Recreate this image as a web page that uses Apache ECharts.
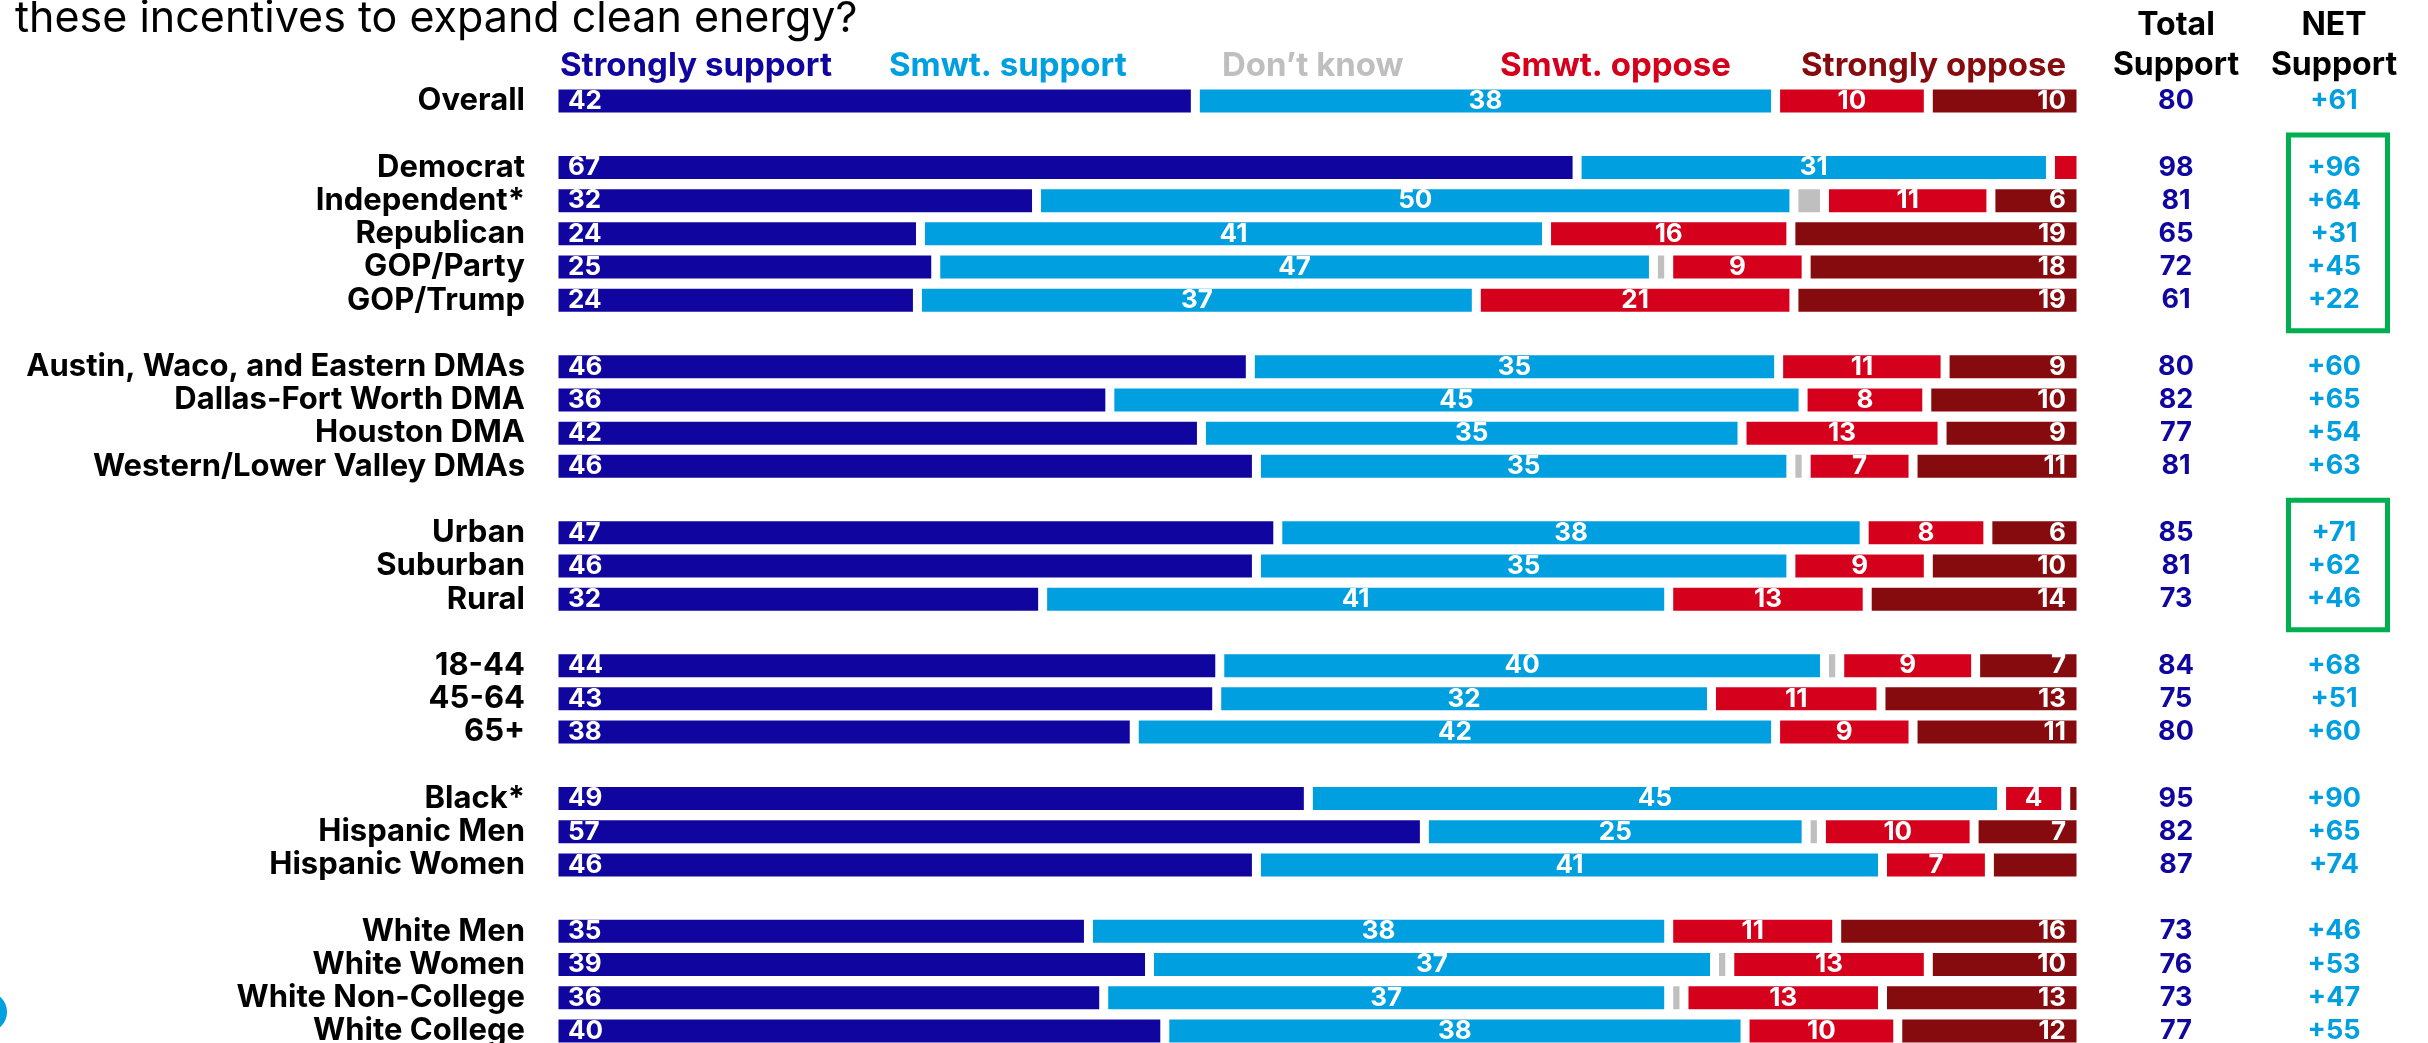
<!DOCTYPE html>
<html>
<head>
<meta charset="utf-8">
<script src="https://cdn.jsdelivr.net/npm/echarts@6/dist/echarts.min.js"></script>
<style>
html,body{margin:0;padding:0;background:#fff;}
#chart{width:2428px;height:1043px;}
</style>
</head>
<body>
<div id="chart"></div>
<script>
// rows, with blank spacer rows between the groups
var categories = ['Overall', ' ',
	'Democrat', 'Independent*', 'Republican', 'GOP/Party', 'GOP/Trump', '  ',
	'Austin, Waco, and Eastern DMAs', 'Dallas-Fort Worth DMA', 'Houston DMA', 'Western/Lower Valley DMAs', '   ',
	'Urban', 'Suburban', 'Rural', '    ',
	'18-44', '45-64', '65+', '     ',
	'Black*', 'Hispanic Men', 'Hispanic Women', '      ',
	'White Men', 'White Women', 'White Non-College', 'White College'];

var strongSupport = [42, null, 67, 31.6, 24, 25, 23.8, null, 45.6, 36.4, 42.4, 46, null, 47.4, 46, 32, null, 43.6, 43.4, 38, null, 49.4, 57, 46, null, 35, 39, 36, 40];
var smwtSupport   = [38, null, 31, 49.6, 41, 47, 36.6, null, 34.6, 45.4, 35.4, 35, null, 38.4, 35, 41, null, 39.6, 32.4, 42, null, 45.4, 25, 41, null, 38, 37, 37, 38];
var dontKnow      = [0, null, 0, 2, 0, 1, 0, null, 0, 0, 0, 1, null, 0, 0, 0, null, 1, 0, 0, null, 0, 1, 0, null, 0, 1, 1, 0];
var smwtOppose    = [10, null, 2, 10.9, 16, 9, 20.8, null, 10.9, 8.1, 13.1, 7, null, 8.1, 9, 13, null, 8.9, 11.1, 9, null, 4.2, 10, 7, null, 11, 13, 13, 10];
var strongOppose  = [10, null, 0, 5.9, 19, 18, 18.8, null, 8.9, 10.1, 9.1, 11, null, 6.1, 10, 14, null, 6.9, 13.1, 11, null, 1.0, 7, 6, null, 16, 10, 13, 12];

var totalSupport = [80, null, 98, 81, 65, 72, 61, null, 80, 82, 77, 81, null, 85, 81, 73, null, 84, 75, 80, null, 95, 82, 87, null, 73, 76, 73, 77];
var netSupport = ['+61', null, '+96', '+64', '+31', '+45', '+22', null, '+60', '+65', '+54', '+63', null, '+71', '+62', '+46', null, '+68', '+51', '+60', null, '+90', '+65', '+74', null, '+46', '+53', '+47', '+55'];

// segments printed without a number in the original
var unlabeledStrongOppose = ['Hispanic Women'];

// groups boxed in green on the NET column
var boxedGroups = [['Democrat', 'GOP/Trump'], ['Urban', 'Rural']];

var COLOR = {
	STRONG_SUPPORT: '#10069F',
	SMWT_SUPPORT: '#009FDF',
	DONT_KNOW: '#BFBFBF',
	SMWT_OPPOSE: '#D5001C',
	STRONG_OPPOSE: '#860B0F',
	BOX: '#00B050'
};
var FONT = 'Inter';

function toData(arr){
	return arr.map(function(v){ return (v === null || v === 0) ? '-' : v; });
}

function makeSeries(name, values, color, labelPos, labelDist, hideFor){
	return {
		name: name,
		type: 'bar',
		stack: 'all',
		barWidth: 32,
		data: toData(values),
		itemStyle: { color: color, borderColor: '#ffffff', borderWidth: 4.5 },
		label: {
			show: labelPos !== null,
			position: labelPos || 'inside',
			distance: labelDist,
			color: '#ffffff',
			fontFamily: FONT,
			fontWeight: 'bold',
			fontSize: 26,
			formatter: function(p){
				if (p.value < 3) return '';
				if (hideFor && hideFor.indexOf(p.name) >= 0) return '';
				return Math.round(p.value);
			}
		},
		emphasis: { disabled: true },
		animation: false
	};
}

function legendItem(name, color, left){
	return {
		data: [name],
		left: left,
		top: 45,
		icon: 'none',
		itemWidth: 0,
		itemHeight: 14,
		selectedMode: false,
		textStyle: { color: color, fontFamily: FONT, fontWeight: 'bold', fontSize: 33 }
	};
}

var chart = echarts.init(document.getElementById('chart'));

chart.setOption({
	backgroundColor: '#ffffff',
	animation: false,
	legend: [
		legendItem('Strongly support', COLOR.STRONG_SUPPORT, 550),
		legendItem('Smwt. support', COLOR.SMWT_SUPPORT, 879),
		legendItem('Don\u2019t know', COLOR.DONT_KNOW, 1212),
		legendItem('Smwt. oppose', COLOR.SMWT_OPPOSE, 1490),
		legendItem('Strongly oppose', COLOR.STRONG_OPPOSE, 1791)
	],
	// the last row runs to the bottom edge, so the grid is allowed past the canvas
	grid: { left: 554, width: 1527, top: 84.4, height: 963.2, containLabel: false, outerBoundsMode: 'none' },
	xAxis: { type: 'value', min: 0, max: 100, show: false },
	yAxis: [
		{
			type: 'category',
			inverse: true,
			data: categories,
			axisLine: { show: false },
			axisTick: { show: false },
			axisLabel: {
				interval: 0,
				margin: 29,
				color: '#000000',
				fontFamily: FONT,
				fontWeight: 'bold',
				fontSize: 31
			}
		},
		{
			type: 'category',
			inverse: true,
			position: 'right',
			data: categories,
			axisLine: { show: false },
			axisTick: { show: false },
			axisLabel: {
				interval: 0,
				margin: 40,
				formatter: function(value, index){
					if (totalSupport[index] === null) return '';
					return '{t|' + totalSupport[index] + '}{n|' + netSupport[index] + '}';
				},
				rich: {
					t: { width: 110, align: 'center', color: COLOR.STRONG_SUPPORT, fontFamily: FONT, fontWeight: 'bold', fontSize: 27 },
					n: { width: 206, align: 'center', color: COLOR.SMWT_SUPPORT, fontFamily: FONT, fontWeight: 'bold', fontSize: 27 }
				}
			}
		}
	],
	series: [
		makeSeries('Strongly support', strongSupport, COLOR.STRONG_SUPPORT, 'insideLeft', 14),
		makeSeries('Smwt. support', smwtSupport, COLOR.SMWT_SUPPORT, 'inside', 5),
		makeSeries('Don\u2019t know', dontKnow, COLOR.DONT_KNOW, null, 5),
		makeSeries('Smwt. oppose', smwtOppose, COLOR.SMWT_OPPOSE, 'inside', 5),
		makeSeries('Strongly oppose', strongOppose, COLOR.STRONG_OPPOSE, 'insideRight', 15, unlabeledStrongOppose)
	],
	graphic: [
		{ type: 'text', id: 'question', style: { text: 'these incentives to expand clean energy?', x: 15, y: 19, font: '43px Inter', fill: '#000000', verticalAlign: 'middle' } },
		{ type: 'text', id: 'h1a', style: { text: 'Total', x: 2176, y: 25, font: 'bold 32px Inter', fill: '#000000', align: 'center', verticalAlign: 'middle' } },
		{ type: 'text', id: 'h1b', style: { text: 'Support', x: 2176, y: 65, font: 'bold 32px Inter', fill: '#000000', align: 'center', verticalAlign: 'middle' } },
		{ type: 'text', id: 'h2a', style: { text: 'NET', x: 2334, y: 25, font: 'bold 32px Inter', fill: '#000000', align: 'center', verticalAlign: 'middle' } },
		{ type: 'text', id: 'h2b', style: { text: 'Support', x: 2334, y: 65, font: 'bold 32px Inter', fill: '#000000', align: 'center', verticalAlign: 'middle' } },
		{ type: 'circle', id: 'logo', shape: { cx: -13, cy: 1012, r: 20 }, style: { fill: COLOR.SMWT_SUPPORT } }
	]
});

// green boxes follow the category axis
var boxes = boxedGroups.map(function(g, i){
	var y0 = chart.convertToPixel({ yAxisIndex: 0 }, g[0]);
	var y1 = chart.convertToPixel({ yAxisIndex: 0 }, g[1]);
	return {
		type: 'rect',
		id: 'box' + i,
		shape: { x: 2288.5, y: y0 - 32.5, width: 99, height: (y1 + 30.5) - (y0 - 32.5) },
		style: { fill: 'none', stroke: COLOR.BOX, lineWidth: 5 }
	};
});
chart.setOption({ graphic: boxes });
</script>
</body>
</html>
